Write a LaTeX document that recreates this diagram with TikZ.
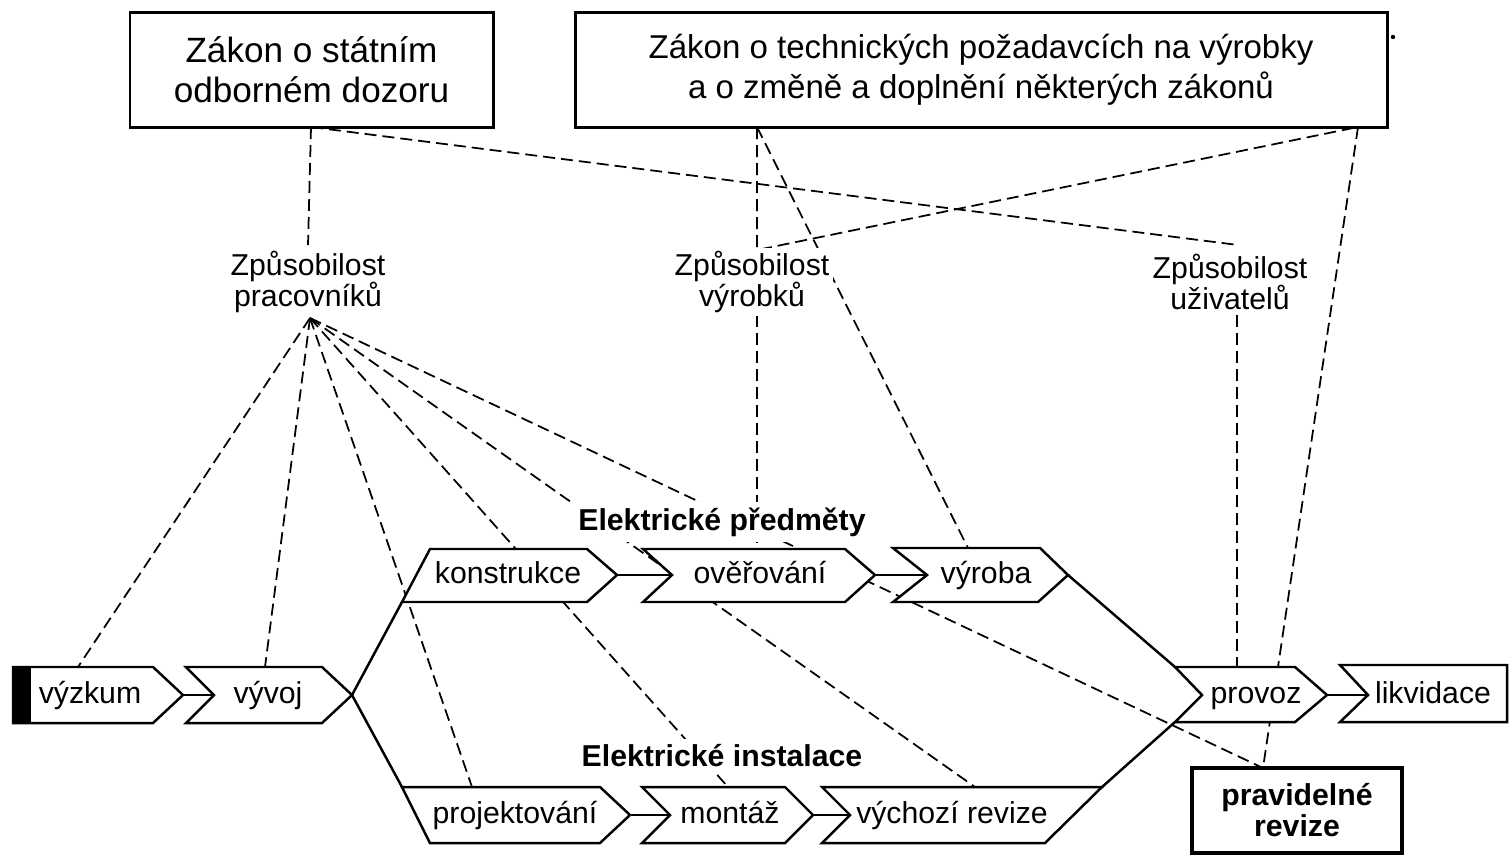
\documentclass[tikz,border=0pt]{standalone}
\usepackage{fontspec}
\setmainfont{Liberation Sans}
\tikzset{
  lawbox/.style={draw, line width=0.85pt, align=center, inner sep=0pt, outer sep=0pt},
  chevbox/.style={draw, fill=white, line width=0.7pt, line join=miter},
  steplabel/.style={anchor=base, inner sep=0pt, font=\fontsize{8.6}{10}\selectfont},
  skill/.style={align=center, fill=white, inner sep=1pt, font=\fontsize{8.6}{8.8}\selectfont},
  grouplabel/.style={anchor=base, fill=white, inner sep=1.5pt, font=\fontsize{8.6}{10}\selectfont\bfseries},
  link/.style={dash pattern=on 1.2mm off 0.6mm, line width=0.5pt},
  flow/.style={line width=0.7pt},
}
\begin{document}
\begin{tikzpicture}[x=0.1mm, y=-0.1mm]
\useasboundingbox (0,0) rectangle (1509,856);

% zakony
\node[lawbox, minimum width=36.3mm, minimum height=11.5mm,
      font=\fontsize{10}{11.4}\selectfont] (dozor) at (311.5,69.5)
      {Zákon o státním\\odborném dozoru};
\node[lawbox, minimum width=81.2mm, minimum height=11.5mm,
      font=\fontsize{9.4}{11.4}\selectfont] (pozadavky) at (981,69.5)
      {Zákon o technických požadavcích na výrobky\\a o změně a doplnění některých zákonů};
\fill (1393,37) circle (0.22mm);

\coordinate (dozor-b) at (311,127);
\coordinate (pozad-b1) at (757,127);
\coordinate (pozad-b2) at (1358,127);
\coordinate (prac-t) at (308,245);
\coordinate (prac-b) at (310,318);
\coordinate (vyr-t) at (757,250);
\coordinate (vyr-b) at (757,315);
\coordinate (uziv-t) at (1238,245);
\coordinate (uziv-b) at (1237,315);

\coordinate (vyzkum-t) at (78,667);
\coordinate (vyvoj-t) at (265,667);
\coordinate (projekt-t) at (472,787);
\coordinate (montaz-t) at (728,787);
\coordinate (revize-t) at (975,787);
\coordinate (overeni-t) at (757,549);
\coordinate (vyroba-t) at (968,548);
\coordinate (provoz-t) at (1237,667);
\coordinate (pravid-t) at (1263,768);

% carkovane vazby
\draw[link] (dozor-b) -- (prac-t);
\draw[link] (dozor-b) -- (uziv-t);
\draw[link] (pozad-b1) -- (vyr-t) -- (pozad-b2);
\draw[link] (pozad-b1) -- (vyroba-t);
\draw[link] (pozad-b2) -- (pravid-t);
\draw[link] (vyr-b) -- (overeni-t);
\draw[link] (uziv-b) -- (provoz-t);
\foreach \t in {vyzkum-t, vyvoj-t, projekt-t, montaz-t, revize-t, pravid-t}
  \draw[link] (prac-b) -- (\t);

% zpusobilosti
\node[skill] (pracovnici) at (308,282) {Způsobilost\\pracovníků};
\node[skill] (vyrobky) at (752,282) {Způsobilost\\výrobků};
\node[skill] (uzivatele) at (1230,282) {Způsobilost\\uživatelů};

% etapy
\coordinate (vyzkum-tip) at (183,695);
\coordinate (vyvoj-notch) at (214,695);
\coordinate (vyvoj-tip) at (352,695);
\coordinate (konstr-sw) at (402,602);
\coordinate (projekt-nw) at (402,787);
\coordinate (konstr-tip) at (617,575);
\coordinate (overeni-notch) at (672,575);
\coordinate (overeni-tip) at (875,575);
\coordinate (vyroba-notch) at (927,575);
\coordinate (vyroba-tip) at (1068,575);
\coordinate (projekt-tip) at (630,815);
\coordinate (montaz-notch) at (670,815);
\coordinate (montaz-tip) at (813,815);
\coordinate (revize-notch) at (850,815);
\coordinate (revize-ne) at (1102,787);
\coordinate (provoz-nw) at (1175,667);
\coordinate (provoz-sw) at (1175,722);
\coordinate (provoz-tip) at (1327,695);
\coordinate (likv-notch) at (1368,695);

\draw[chevbox] (13,667) -- (153,667) -- (vyzkum-tip) -- (153,723) -- (13,723) -- cycle;
\fill (13,667) rectangle (31,723);
\draw[chevbox] (186,667) -- (322,667) -- (vyvoj-tip) -- (322,723) -- (186,723) -- (vyvoj-notch) -- cycle;
\draw[chevbox] (430,549) -- (587,549) -- (konstr-tip) -- (587,602) -- (konstr-sw) -- cycle;
\draw[chevbox] (643,549) -- (845,549) -- (overeni-tip) -- (845,602) -- (643,602) -- (overeni-notch) -- cycle;
\draw[chevbox] (893,548) -- (1040,548) -- (vyroba-tip) -- (1038,602) -- (893,602) -- (vyroba-notch) -- cycle;
\draw[chevbox] (projekt-nw) -- (600,787) -- (projekt-tip) -- (600,843) -- (430,843) -- cycle;
\draw[chevbox] (642,787) -- (785,787) -- (montaz-tip) -- (785,843) -- (642,843) -- (montaz-notch) -- cycle;
\draw[chevbox] (822,787) -- (revize-ne) -- (1045,843) -- (822,843) -- (revize-notch) -- cycle;
\draw[chevbox] (provoz-nw) -- (1295,667) -- (provoz-tip) -- (1295,722) -- (provoz-sw) -- (1202,695) -- cycle;
\draw[chevbox] (1340,665) -- (1507,665) -- (1507,722) -- (1340,722) -- (likv-notch) -- cycle;

\node[steplabel] (vyzkum) at (90,703) {výzkum};
\node[steplabel] (vyvoj) at (268,703) {vývoj};
\node[steplabel] (konstrukce) at (508,583) {konstrukce};
\node[steplabel] (overovani) at (760,583) {ověřování};
\node[steplabel] (vyroba) at (986,583) {výroba};
\node[steplabel] (projektovani) at (515,823) {projektování};
\node[steplabel] (montaz) at (730,823) {montáž};
\node[steplabel] (vychozi) at (952,823) {výchozí revize};
\node[steplabel] (provoz) at (1256,703) {provoz};
\node[steplabel] (likvidace) at (1433,703) {likvidace};

% navaznosti
\draw[flow] (vyzkum-tip) -- (vyvoj-notch);
\draw[flow] (konstr-sw) -- (vyvoj-tip) -- (projekt-nw);
\draw[flow] (konstr-tip) -- (overeni-notch);
\draw[flow] (overeni-tip) -- (vyroba-notch);
\draw[flow] (projekt-tip) -- (montaz-notch);
\draw[flow] (montaz-tip) -- (revize-notch);
\draw[flow] (vyroba-tip) -- (provoz-nw);
\draw[flow] (revize-ne) -- (provoz-sw);
\draw[flow] (provoz-tip) -- (likv-notch);

\node[grouplabel] (predmety) at (722,530) {Elektrické předměty};
\node[grouplabel] (instalace) at (722,766) {Elektrické instalace};

\node[draw, line width=1pt, minimum width=21mm, minimum height=8.5mm, inner sep=0pt,
      align=center, font=\fontsize{8.6}{8.8}\selectfont\bfseries] (pravidelne) at (1297,810.5)
      {pravidelné\\revize};
\end{tikzpicture}
\end{document}
